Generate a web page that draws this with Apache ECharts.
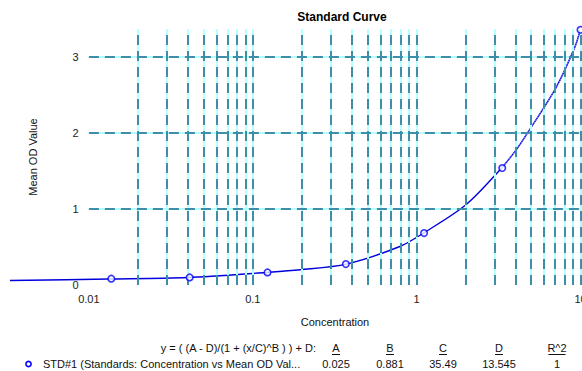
<!DOCTYPE html>
<html>
<head>
<meta charset="utf-8">
<script src="https://cdn.jsdelivr.net/npm/echarts@6/dist/echarts.min.js"></script>
<style>
html,body{margin:0;padding:0;background:#fff;}
#chart{width:582px;height:371px;}
</style>
</head>
<body>
<div id="chart"></div>
<script>
// ---- data ----
const chartTitle = 'Standard Curve';
const xAxisName = 'Concentration';
const yAxisName = 'Mean OD Value';
const stdConcentration = [0.0137, 0.0412, 0.123, 0.370, 1.11, 3.33, 10];
const stdMeanOD = [0.083, 0.100, 0.166, 0.276, 0.684, 1.540, 3.360];
const curveConcentration = [0.0033, 0.0132, 0.04, 0.121, 0.195, 0.372, 0.79, 1.1, 2.0, 3.23, 4.04, 4.72, 7.09, 9.26, 10];
const curveMeanOD = [0.059, 0.078, 0.098, 0.165, 0.200, 0.275, 0.507, 0.683, 1.056, 1.517, 1.775, 1.992, 2.598, 3.138, 3.37];
const xGridTicks = [0.02,0.03,0.04,0.05,0.06,0.07,0.08,0.09,0.1,0.2,0.3,0.4,0.5,0.6,0.7,0.8,0.9,1,2,3,4,5,6,7,8,9,10];
const yGridTicks = [1, 2, 3];
const xGridStart = 0.01, xGridEnd = 10;
const equationText = 'y = ( (A - D)/(1 + (x/C)^B ) ) + D:';
const seriesLabel = 'STD#1 (Standards: Concentration vs Mean OD Val...';
const paramNames = ['A', 'B', 'C', 'D', 'R^2'];
const paramValues = ['0.025', '0.881', '35.49', '13.545', '1'];

// ---- build ----
const pair = (xs, ys) => xs.map((x, i) => [x, ys[i]]);
const curveData = pair(curveConcentration, curveMeanOD);
const stdData = pair(stdConcentration, stdMeanOD);
const upperCurve = curveData.filter(p => p[0] >= 3.2);

const CYAN = '#b6ffff';
const TEAL = '#3d8fa9';
const FONT = 'Liberation Sans, Arial, sans-serif';

function gridLines(style) {
  const d = [];
  xGridTicks.forEach(v => d.push({ xAxis: v, lineStyle: style }));
  yGridTicks.forEach(v => d.push([{ coord: [xGridStart, v], lineStyle: style }, { coord: [xGridEnd, v] }]));
  return d;
}
function markLineOf(style) {
  return {
    silent: true, symbol: 'none', animation: false,
    label: { show: false }, emphasis: { disabled: true },
    data: gridLines(style)
  };
}

const colX = [336, 390, 443, 499, 557];
const headerY = 348, rowY = 364;
const txt = (text, x, y, align, extra) => Object.assign({ type: 'text', x: x, y: y, silent: true,
  style: { text: text, font: '11px ' + FONT, fill: '#111', align: align, verticalAlign: 'middle' } }, extra || {});
const graphics = [];
graphics.push(txt(xAxisName, 335, 322, 'center'));
graphics.push(txt(equationText, 316, headerY, 'right'));
paramNames.forEach((n, i) => {
  graphics.push(txt(n, colX[i], headerY, 'center'));
  const w = n.length === 1 ? 8 : 17;
  graphics.push({ type: 'line', silent: true,
    shape: { x1: colX[i] - w / 2, y1: headerY + 6.5, x2: colX[i] + w / 2, y2: headerY + 6.5 },
    style: { stroke: '#111', lineWidth: 1 } });
  graphics.push(txt(paramValues[i], colX[i], rowY, 'center'));
});
graphics.push({ type: 'circle', silent: true, shape: { cx: 28.5, cy: rowY, r: 2.6 },
  style: { fill: '#fff', stroke: '#0000ff', lineWidth: 1.6 } });
graphics.push(txt(seriesLabel, 43, rowY, 'left'));

const chart = echarts.init(document.getElementById('chart'), null, { renderer: 'svg' });
chart.setOption({
  animation: false,
  backgroundColor: '#fff',
  textStyle: { fontFamily: FONT },
  title: {
    text: chartTitle, left: 337, top: 6, textAlign: 'center',
    textStyle: { fontSize: 12, fontWeight: 'bold', color: '#000', fontFamily: FONT }
  },
  grid: { left: 10, top: 29, width: 570.5, height: 256, containLabel: false, outerBoundsMode: 'none' },
  xAxis: {
    type: 'log', logBase: 10, min: 0.0033, max: 10,
    axisLine: { show: false }, axisTick: { show: false },
    splitLine: { show: false }, minorSplitLine: { show: false },
    axisLabel: { fontSize: 11, color: '#222', margin: 8, fontFamily: FONT, showMinLabel: false, hideOverlap: false }
  },
  yAxis: {
    type: 'value', min: 0, max: 3.37, interval: 1, offset: -78.5,
    name: yAxisName, nameLocation: 'middle', nameGap: 50,
    nameTextStyle: { fontSize: 11, color: '#111', fontFamily: FONT },
    axisLine: { show: false }, axisTick: { show: false },
    splitLine: { show: false },
    axisLabel: { fontSize: 11, color: '#222', margin: 10, showMaxLabel: false, fontFamily: FONT }
  },
  graphic: graphics,
  series: [
    { name: 'gridBase', type: 'line', data: [], z: 1, silent: true,
      markLine: markLineOf({ color: CYAN, width: 2, type: 'solid', opacity: 1 }) },
    { name: 'gridDash', type: 'line', data: [], z: 1, silent: true,
      markLine: markLineOf({ color: TEAL, width: 2, type: [10, 6], opacity: 1 }) },
    { name: 'fit', type: 'line', data: curveData, smooth: 0.3, showSymbol: false, clip: false,
      z: 3, silent: true, lineStyle: { color: '#0000dd', width: 1.4 } },
    { name: 'fitUpper', type: 'line', data: upperCurve, smooth: 0.3, showSymbol: false, clip: false,
      z: 4, silent: true, lineStyle: { color: '#a8a8ff', width: 1, type: 'dotted' } },
    { name: 'STD#1', type: 'scatter', data: stdData, symbol: 'circle', symbolSize: 6.5, clip: false,
      z: 5, silent: true,
      itemStyle: { color: '#ffffff', borderColor: '#0000ff', borderWidth: 1.6 } }
  ]
});
</script>
</body>
</html>
